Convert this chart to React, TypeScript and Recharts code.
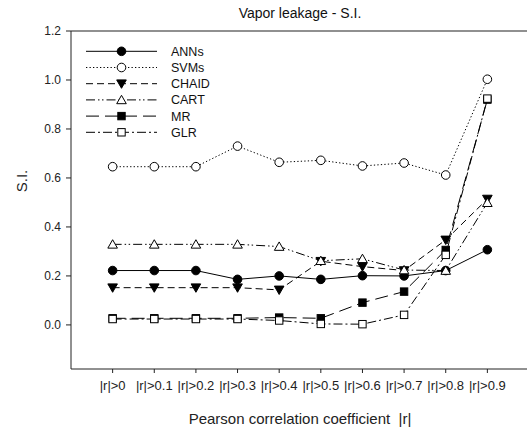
import React from 'react';
import { LineChart, Line, XAxis, YAxis, ReferenceLine, Label } from 'recharts';

const categories = ['|r|>0', '|r|>0.1', '|r|>0.2', '|r|>0.3', '|r|>0.4', '|r|>0.5', '|r|>0.6', '|r|>0.7', '|r|>0.8', '|r|>0.9'];
const ANNs = [0.222, 0.222, 0.222, 0.186, 0.200, 0.186, 0.201, 0.200, 0.222, 0.307];
const SVMs = [0.646, 0.646, 0.646, 0.730, 0.664, 0.672, 0.649, 0.661, 0.612, 1.003];
const CHAID = [0.152, 0.152, 0.152, 0.152, 0.143, 0.260, 0.238, 0.222, 0.347, 0.514];
const CART = [0.329, 0.329, 0.329, 0.329, 0.320, 0.262, 0.270, 0.224, 0.222, 0.499];
const MR = [0.027, 0.027, 0.027, 0.027, 0.030, 0.027, 0.091, 0.136, 0.306, 0.920];
const GLR = [0.024, 0.024, 0.024, 0.024, 0.018, 0.004, 0.003, 0.041, 0.286, 0.924];
const yTicks = [0, 0.2, 0.4, 0.6, 0.8, 1.0, 1.2];
const xTicks = categories.map((_, i) => i);

const FONT = 'Liberation Sans, Arial, sans-serif';

type MarkerKind = 'circleFilled' | 'circleOpen' | 'triDownFilled' | 'triUpOpen' | 'squareFilled' | 'squareOpen';

const series: { key: string; values: number[]; dash?: string; marker: MarkerKind }[] = [
  { key: 'ANNs', values: ANNs, marker: 'circleFilled' },
  { key: 'SVMs', values: SVMs, dash: '1.3 2.2', marker: 'circleOpen' },
  { key: 'CHAID', values: CHAID, dash: '7 4', marker: 'triDownFilled' },
  { key: 'CART', values: CART, dash: '9 3 1.5 2.5 1.5 3', marker: 'triUpOpen' },
  { key: 'MR', values: MR, dash: '13 6', marker: 'squareFilled' },
  { key: 'GLR', values: GLR, dash: '9 3 2 3', marker: 'squareOpen' },
];

const data = categories.map((c, i) => {
  const row: Record<string, number | string> = { x: i, label: c };
  series.forEach((s) => { row[s.key] = s.values[i]; });
  return row;
});

function Marker({ kind, cx, cy }: { kind: MarkerKind; cx: number; cy: number }) {
  const sw = 1;
  switch (kind) {
    case 'circleFilled':
      return <circle cx={cx} cy={cy} r={4.3} fill="#000" stroke="#000" strokeWidth={sw} />;
    case 'circleOpen':
      return <circle cx={cx} cy={cy} r={4.3} fill="#fff" stroke="#000" strokeWidth={sw} />;
    case 'triDownFilled':
      return <polygon points={`${cx - 4.8},${cy - 3.8} ${cx + 4.8},${cy - 3.8} ${cx},${cy + 4.6}`} fill="#000" stroke="#000" strokeWidth={sw} />;
    case 'triUpOpen':
      return <polygon points={`${cx - 4.8},${cy + 3.8} ${cx + 4.8},${cy + 3.8} ${cx},${cy - 4.6}`} fill="#fff" stroke="#000" strokeWidth={sw} />;
    case 'squareFilled':
      return <rect x={cx - 3.7} y={cy - 3.7} width={7.4} height={7.4} fill="#000" stroke="#000" strokeWidth={sw} />;
    case 'squareOpen':
      return <rect x={cx - 3.7} y={cy - 3.7} width={7.4} height={7.4} fill="#fff" stroke="#000" strokeWidth={sw} />;
  }
  return null;
}

export default function App() {
  return (
    <div style={{ position: 'absolute', left: 0, top: 0, width: 527, height: 427, overflow: 'hidden', background: '#fff', fontFamily: FONT }}>
      <LineChart width={529} height={427} data={data} margin={{ top: 31, right: 0, bottom: 0, left: 0 }}>
        <XAxis
          dataKey="x"
          type="number"
          domain={[-1, 10]}
          ticks={xTicks}
          tickFormatter={(v: number) => categories[v] ?? ''}
          interval={0}
          height={58}
          tickSize={4}
          tickMargin={8}
          stroke="#222"
          tick={{ fill: '#222', fontSize: 13, fontFamily: FONT }}
          axisLine={{ stroke: '#222' }}
          tickLine={{ stroke: '#222' }}
          allowDataOverflow
        >
          <Label value={'Pearson correlation coefficient\u00a0\u00a0|r|'} position="insideBottom" offset={3} style={{ fill: '#222', fontSize: 15, fontFamily: FONT }} />
        </XAxis>
        <YAxis
          type="number"
          domain={[-0.18, 1.2]}
          ticks={yTicks}
          tickFormatter={(v: number) => v.toFixed(1)}
          width={71}
          tickSize={5}
          tickMargin={5}
          interval={0}
          allowDataOverflow
          tick={{ fill: '#222', fontSize: 12, fontFamily: FONT }}
          axisLine={{ stroke: '#222' }}
          tickLine={{ stroke: '#222' }}
        >
          <Label
            content={() => (
              <text x={27} y={181} transform="rotate(-90 27 181)" textAnchor="middle" fill="#222" fontSize={15} fontFamily={FONT}>S.I.</text>
            )}
          />
        </YAxis>
        <ReferenceLine y={1.2} stroke="#222" strokeWidth={1.2}>
          <Label value="Vapor leakage - S.I." position="top" offset={13} style={{ fill: '#111', fontSize: 14, fontFamily: FONT }} />
        </ReferenceLine>
        {series.map((s) => (
          <Line
            key={s.key}
            dataKey={s.key}
            type="linear"
            stroke="#000"
            strokeWidth={1}
            strokeDasharray={s.dash}
            isAnimationActive={false}
            dot={(p: any) => <Marker key={`${s.key}-${p.index}`} kind={s.marker} cx={p.cx} cy={p.cy} />}
            activeDot={false}
          />
        ))}
      </LineChart>
      <svg width={527} height={427} style={{ position: 'absolute', left: 0, top: 0, pointerEvents: 'none' }}>
        {series.map((s, i) => {
          const y = 51.3 + i * 16.2;
          return (
            <g key={s.key}>
              <line x1={86} x2={157} y1={y} y2={y} stroke="#000" strokeWidth={1} strokeDasharray={s.dash} />
              <Marker kind={s.marker} cx={121.5} cy={y} />
              <text x={171} y={y + 4.5} fontSize={12.5} fontFamily={FONT} fill="#111">{s.key}</text>
            </g>
          );
        })}
      </svg>
    </div>
  );
}
